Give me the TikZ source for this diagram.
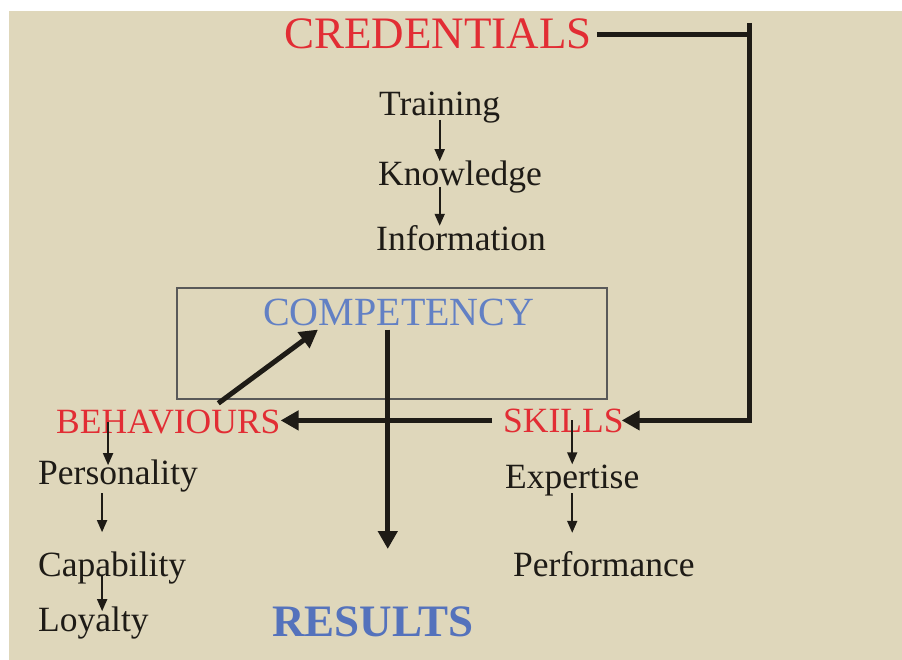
\documentclass[tikz,border=0pt]{standalone}
\usepackage{fontspec}
\setmainfont{Liberation Serif}
\usepackage{tikz}
\usetikzlibrary{arrows.meta, positioning}
\definecolor{sand}{RGB}{223,215,187}
\definecolor{credred}{RGB}{226,45,52}
\definecolor{compblue}{RGB}{98,128,196}
\definecolor{resblue}{RGB}{84,114,188}
\definecolor{ink}{RGB}{30,27,22}

\begin{document}
\begin{tikzpicture}[x=1pt, y=-1pt,
      word/.style={anchor=base west, inner sep=0pt, text=ink,
          font=\fontsize{35.5}{40}\selectfont},
      title/.style={word, text=credred},
      small/.style={draw=ink, line width=1.8pt,
          -{Triangle[length=12pt, width=10pt]}},
      big/.style={draw=ink, line width=5pt},
      bigarrow/.style={big, -{Triangle[length=18pt, width=19pt]}},
      compbox/.style={draw=black!65, line width=1.3pt,
          minimum width=430pt, minimum height=111pt}]
    \useasboundingbox (0,0) rectangle (902,660);
    \fill[sand] (9,11) rectangle (902,660);

    \node[title, font=\fontsize{45}{50}\selectfont] (cred) at (284,49) {CREDENTIALS};
    \node[word] (train) at (379,116) {Training};
    \node[word] (know)  at (378,186) {Knowledge};
    \node[word] (info)  at (376,251) {Information};

    \node[compbox] (box) at (392,343.5) {};
    \node[word, text=compblue, font=\fontsize{40}{44}\selectfont] (comp) at (263,326) {COMPETENCY};

    \node[title] (behav)  at (56,433)  {BEHAVIOURS};
    \node[title] (skills) at (503,432) {SKILLS};
    \node[word] (pers)  at (38,484)  {Personality};
    \node[word] (capa)  at (38,576)  {Capability};
    \node[word] (loyal) at (38,631)  {Loyalty};
    \node[word] (exp)   at (505,488) {Expertise};
    \node[word] (perf)  at (513,576) {Performance};
    \node[word, text=resblue, font=\fontsize{45}{48}\selectfont\bfseries] (res) at (272,636) {RESULTS};
    \coordinate (rail) at (749,23);
    \coordinate (drop) at ([xshift=-11pt, yshift=-3pt]comp.south);

    \draw[small] ([yshift=-4pt]train.base) -- (train.base |- know.north);
    \draw[small] ([yshift=-1pt]train.base |- know.base) -- (train.base |- info.north);

    \draw[small] (exp.base |- skills) -- (exp.north);
    \draw[small] ([yshift=-5pt]exp.base) -- ([yshift=18pt]exp.base |- perf.north);

    \draw[small] ([xshift=-10pt]pers.base |- behav.center) -- ([xshift=-10pt, yshift=-6pt]pers.north);
    \draw[small] ([xshift=-16pt, yshift=-9pt]pers.base) -- ([xshift=-16pt, yshift=19pt]pers.base |- capa.north);
    \draw[small] ([xshift=-10pt]capa.base) -- ([xshift=-10pt, yshift=-5pt]capa.base |- loyal.north);

    \draw[big] ([xshift=5pt]cred.east) -- (cred.east -| rail);
    \draw[bigarrow] (rail) |- ([xshift=-2pt]skills.east);
    \draw[bigarrow] ([xshift=-11pt]skills.west) -- (behav.east |- skills.west);
    \draw[bigarrow] ([xshift=50pt, yshift=6pt]behav.north) -- ([xshift=55pt, yshift=-3pt]comp.south west);
    \draw[bigarrow] (drop) -- ([yshift=57pt]drop |- res.north);
\end{tikzpicture}
\end{document}
